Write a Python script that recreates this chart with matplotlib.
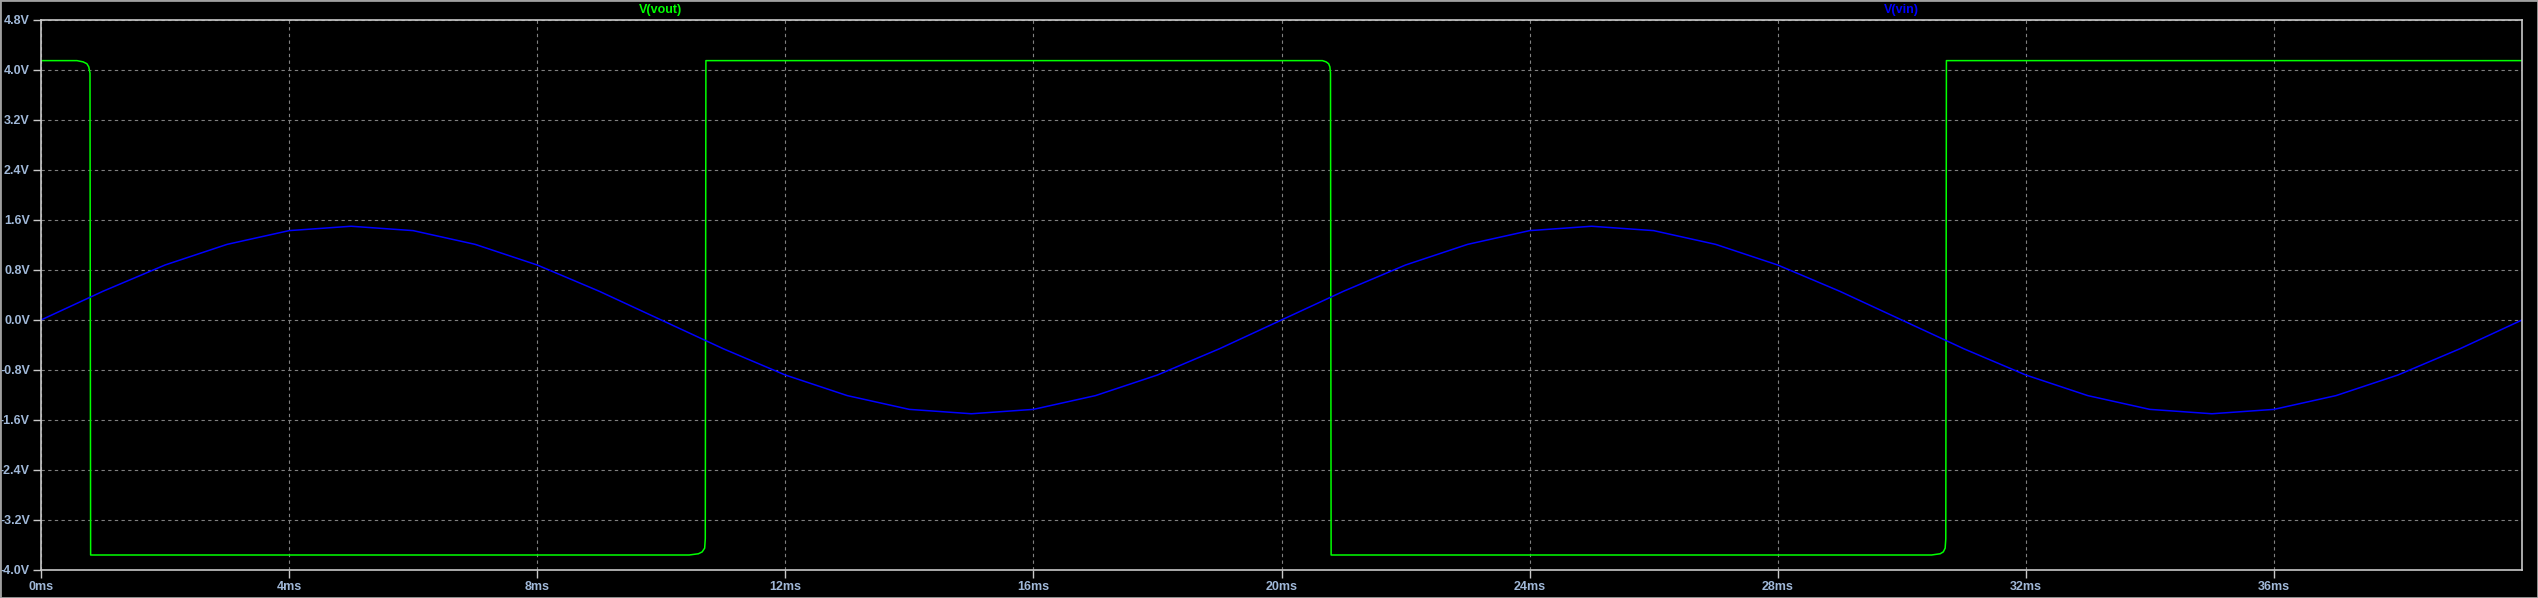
import matplotlib
matplotlib.use("Agg")
import matplotlib.pyplot as plt
from matplotlib.patches import Rectangle

# Tiempo en ms y tensiones
t_vin = list(range(0, 41))
vin = [0.00, 0.46, 0.88, 1.21, 1.43, 1.50, 1.43, 1.21, 0.88, 0.46,
       0.00, -0.46, -0.88, -1.21, -1.43, -1.50, -1.43, -1.21, -0.88, -0.46,
       0.00, 0.46, 0.88, 1.21, 1.43, 1.50, 1.43, 1.21, 0.88, 0.46,
       0.00, -0.46, -0.88, -1.21, -1.43, -1.50, -1.43, -1.21, -0.88, -0.46,
       0.00]

t_vout = [0.00, 0.58, 0.68, 0.74, 0.77, 0.79, 0.80,
          10.45, 10.60, 10.66, 10.70, 10.71, 10.72,
          20.66, 20.72, 20.76, 20.78, 20.79, 20.80,
          30.48, 30.62, 30.67, 30.70, 30.71, 30.72,
          40.00]
vout = [4.15, 4.15, 4.13, 4.10, 4.05, 3.95, -3.76,
        -3.76, -3.74, -3.71, -3.65, -3.50, 4.15,
        4.15, 4.13, 4.10, 4.05, 3.95, -3.76,
        -3.76, -3.74, -3.71, -3.65, -3.50, 4.15,
        4.15]

x_ticks = [0, 4, 8, 12, 16, 20, 24, 28, 32, 36]
x_labels = ["%dms" % v for v in x_ticks]
y_ticks = [4.8, 4.0, 3.2, 2.4, 1.6, 0.8, 0.0, -0.8, -1.6, -2.4, -3.2, -4.0]
y_labels = ["%.1fV" % v if v != 0 else "0.0V" for v in y_ticks]

W, H = 2538, 598
fig = plt.figure(figsize=(W / 100, H / 100), dpi=100, facecolor="black")
ax = fig.add_axes([41 / W, 1 - 570 / H, (2522 - 41) / W, (570 - 20) / H])
ax.set_facecolor("black")

ax.plot(t_vout, vout, color="#00ff00", lw=1.1)
ax.plot(t_vin, vin, color="#0000ff", lw=1.1)

ax.set_xlim(0, 40)
ax.set_ylim(-4.0, 4.8)
ax.set_xticks(x_ticks)
ax.set_xticklabels(x_labels)
ax.set_yticks(y_ticks)
ax.set_yticklabels(y_labels)

lab_color = "#a0b8d8"
ax.tick_params(colors="#c8c8c8", labelcolor=lab_color, length=6, width=1,
               labelsize=9, pad=2)
for lbl in ax.get_xticklabels() + ax.get_yticklabels():
    lbl.set_family("Liberation Sans")
    lbl.set_fontweight("bold")
ax.grid(True, color="#808080", linestyle=(0, (3, 3)), linewidth=0.8)
for s in ax.spines.values():
    s.set_color("#c8c8c8")
    s.set_linewidth(1.2)

# Nombres de las trazas encima del grafico
fig.text(661 / W, 1 - 10 / H, "V(vout)", color="#00ff00", fontsize=9,
         fontweight="bold", family="Liberation Sans", ha="center", va="center")
fig.text(1901 / W, 1 - 10 / H, "V(vin)", color="#0000ff", fontsize=9,
         fontweight="bold", family="Liberation Sans", ha="center", va="center")

# Borde de la ventana
fig.patches.append(Rectangle((0, 0), 1, 1, transform=fig.transFigure,
                             fill=False, edgecolor="#a0a0a0", linewidth=2))

fig.savefig("out.png", dpi=100, facecolor="black")
